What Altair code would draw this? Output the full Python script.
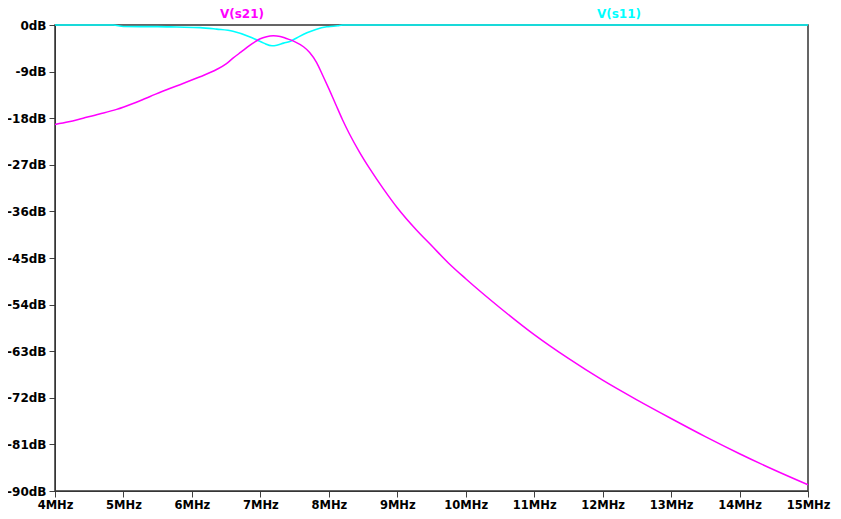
import altair as alt
import pandas as pd

# S21 magnitude (dB) vs frequency (MHz)
s21_freq = [4.0, 4.2, 4.41, 4.65, 4.9, 5.15, 5.39, 5.63, 5.87, 6.12, 6.36, 6.5, 6.6, 6.72,
            6.85, 6.99, 7.09, 7.19, 7.29, 7.38, 7.5, 7.63, 7.72, 7.82, 7.92, 8.0, 8.1,
            8.2, 8.3, 8.45, 8.6, 8.8, 9.0, 9.28, 9.5, 9.75, 10.0, 10.5, 11.0, 11.5,
            12.0, 12.5, 13.0, 13.5, 14.0, 14.5, 15.0]
s21_db = [-19.2, -18.7, -18.0, -17.2, -16.3, -15.1, -13.8, -12.5, -11.3, -10.0, -8.6, -7.5,
          -6.4, -5.2, -3.9, -2.7, -2.25, -2.1, -2.2, -2.6, -3.2, -4.2, -5.3, -7.2, -10.0,
          -12.3, -15.3, -18.3, -21.0, -24.6, -27.8, -31.7, -35.3, -39.6, -42.6, -46.0,
          -49.0, -54.6, -59.8, -64.4, -68.6, -72.4, -76.0, -79.5, -82.8, -85.9, -88.8]

# S11 magnitude (dB) vs frequency (MHz)
s11_freq = [4.0, 4.85, 5.0, 5.5, 5.78, 6.12, 6.36, 6.6, 6.85, 6.95, 7.05, 7.17, 7.24, 7.34,
            7.43, 7.53, 7.68, 7.8, 7.97, 8.07, 8.13, 8.2, 15.0]
s11_db = [0.0, 0.0, -0.3, -0.32, -0.4, -0.5, -0.8, -1.2, -2.3, -2.9, -3.5, -4.0, -3.9,
          -3.5, -3.2, -2.5, -1.5, -0.9, -0.35, -0.25, -0.15, 0.0, 0.0]

x_ticks = list(range(4, 16))
y_ticks = list(range(-90, 1, 9))

W, H = 753, 466

df21 = pd.DataFrame({"f": s21_freq, "db": s21_db})
df11 = pd.DataFrame({"f": s11_freq, "db": s11_db})

xscale = alt.Scale(domain=[4, 15], nice=False, zero=False)
yscale = alt.Scale(domain=[-90, 0], nice=False, zero=False)

axis_common = dict(
    grid=False,
    domainColor="#404040",
    tickColor="#404040",
    tickSize=6,
    labelFont="DejaVu Sans",
    labelFontWeight="bold",
    labelColor="black",
    title=None,
)

xaxis = alt.Axis(values=x_ticks, labelExpr="datum.value + 'MHz'", labelFontSize=11.5,
                 labelPadding=2, labelFlush=False, **axis_common)
yaxis = alt.Axis(values=y_ticks, labelExpr="datum.value + 'dB'", labelFontSize=12,
                 labelPadding=3, **axis_common)

frame = alt.Chart(pd.DataFrame({"a": [0]})).mark_rect(
    fill=None, stroke="#333333", strokeWidth=1.5
).encode(
    x=alt.datum(4, scale=xscale, axis=xaxis),
    x2=alt.datum(15),
    y=alt.datum(-90, scale=yscale, axis=yaxis),
    y2=alt.datum(0),
)

line21 = alt.Chart(df21).mark_line(color="#FF00FF", strokeWidth=1.5,
                                   interpolate="monotone").encode(
    x=alt.X("f:Q", scale=xscale, axis=xaxis),
    y=alt.Y("db:Q", scale=yscale, axis=yaxis),
)

line11 = alt.Chart(df11).mark_line(color="#00FFFF", strokeWidth=1.6,
                                   interpolate="monotone").encode(
    x=alt.X("f:Q", scale=xscale, axis=xaxis),
    y=alt.Y("db:Q", scale=yscale, axis=yaxis),
)

lab21 = alt.Chart(pd.DataFrame({"t": ["V(s21)"]})).mark_text(
    color="#FF00FF", font="DejaVu Sans", fontWeight="bold", fontSize=12, align="center",
    baseline="middle"
).encode(x=alt.value(187), y=alt.value(-11), text="t:N")

lab11 = alt.Chart(pd.DataFrame({"t": ["V(s11)"]})).mark_text(
    color="#00FFFF", font="DejaVu Sans", fontWeight="bold", fontSize=12, align="center",
    baseline="middle"
).encode(x=alt.value(564), y=alt.value(-11), text="t:N")

chart = alt.layer(frame, line11, line21, lab21, lab11).properties(
    width=W,
    height=H,
    autosize=alt.AutoSizeParams(type="none"),
    padding={"left": 47, "top": 17, "right": 25, "bottom": 22},
    background="white",
).configure_view(stroke=None)

chart.save("out.html", embed_options={"renderer": "svg", "actions": False})
